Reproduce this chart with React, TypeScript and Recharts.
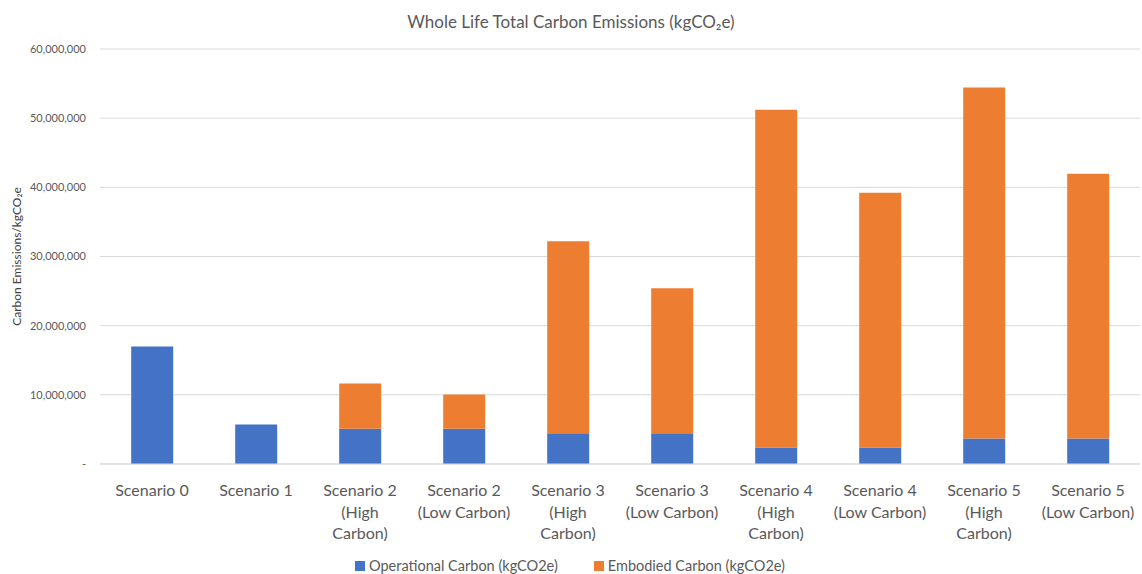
import { BarChart, Bar, XAxis, YAxis, CartesianGrid, Legend } from "recharts";

const categories = [
  "Scenario 0",
  "Scenario 1",
  "Scenario 2\n(High\nCarbon)",
  "Scenario 2\n(Low Carbon)",
  "Scenario 3\n(High\nCarbon)",
  "Scenario 3\n(Low Carbon)",
  "Scenario 4\n(High\nCarbon)",
  "Scenario 4\n(Low Carbon)",
  "Scenario 5\n(High\nCarbon)",
  "Scenario 5\n(Low Carbon)",
];

// values in kgCO2e
const operational = [
  17000000, 5700000, 5100000, 5100000, 4450000, 4450000, 2400000, 2400000, 3700000, 3700000,
];
const embodied = [
  0, 0, 6550000, 4950000, 27750000, 20950000, 48800000, 36800000, 50750000, 38250000,
];

const yTicks = [0, 10000000, 20000000, 30000000, 40000000, 50000000, 60000000];

const seriesNames = ["Operational Carbon (kgCO2e)", "Embodied Carbon (kgCO2e)"];
const seriesColors = ["#4472C4", "#ED7D31"];

const data = categories.map((name, i) => ({
  name,
  operational: operational[i],
  embodied: embodied[i],
}));

const FONT = "Lato, 'Noto Sans', sans-serif";
const GREY = "#595959";

const formatY = (v: number) => (v === 0 ? "-" : v.toLocaleString("en-US"));

const CategoryTick = ({ x, y, payload }: { x?: number; y?: number; payload?: { value: string } }) => {
  const lines = (payload?.value ?? "").split("\n");
  return (
    <text x={x} y={y} textAnchor="middle" fill={GREY} fontSize={16} fontFamily={FONT}>
      {lines.map((line, i) => (
        <tspan key={i} x={x} dy={i === 0 ? 24 : 21.5}>
          {line}
        </tspan>
      ))}
    </text>
  );
};

const LegendContent = () => (
  <div style={{ display: "flex", justifyContent: "center", gap: 36, fontFamily: FONT, fontSize: 14.5, color: GREY }}>
    {seriesNames.map((n, i) => (
      <span key={n} style={{ display: "flex", alignItems: "center" }}>
        <span style={{ width: 10, height: 10, background: seriesColors[i], marginRight: 4, display: "inline-block" }} />
        {n}
      </span>
    ))}
  </div>
);

export default function App() {
  return (
    <div style={{ position: "absolute", left: 0, top: 0, width: 1142, height: 574, background: "#fff" }}>
      <div
        style={{
          position: "absolute",
          top: 11,
          width: 1142,
          textAlign: "center",
          fontFamily: FONT,
          fontSize: 17,
          color: GREY,
        }}
      >
        Whole Life Total Carbon Emissions (kgCO₂e)
      </div>
      <BarChart
        width={1142}
        height={574}
        data={data}
        margin={{ top: 49, right: 2, bottom: 0, left: 0 }}
        barCategoryGap="30%"
      >
        <CartesianGrid vertical={false} stroke="#d9d9d9" />
        <XAxis
          dataKey="name"
          interval={0}
          height={90}
          tickLine={false}
          axisLine={{ stroke: "#d9d9d9" }}
          tick={<CategoryTick />}
        />
        <YAxis
          width={100}
          domain={[0, 60000000]}
          ticks={yTicks}
          tickFormatter={formatY}
          axisLine={false}
          tickLine={false}
          tick={{ fill: GREY, fontSize: 11, fontFamily: FONT }}
          tickMargin={8}
          label={{
            value: "Carbon Emissions/kgCO₂e",
            angle: -90,
            position: "insideLeft",
            offset: 17,
            style: { textAnchor: "middle", fill: "#404040", fontSize: 12, fontFamily: FONT },
          }}
        />
        <Legend verticalAlign="bottom" wrapperStyle={{ height: 20, bottom: -3 }} content={<LegendContent />} />
        <Bar dataKey="operational" name={seriesNames[0]} stackId="a" fill={seriesColors[0]} isAnimationActive={false} />
        <Bar dataKey="embodied" name={seriesNames[1]} stackId="a" fill={seriesColors[1]} isAnimationActive={false} />
      </BarChart>
    </div>
  );
}
